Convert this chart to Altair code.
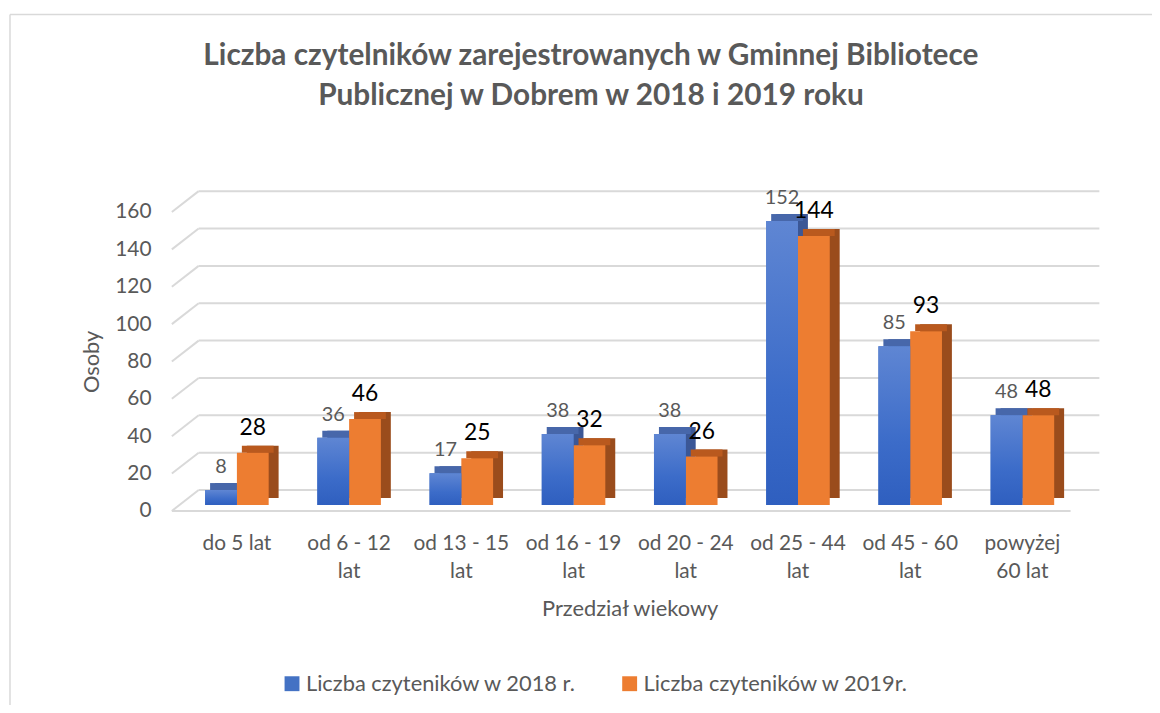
import altair as alt
import pandas as pd

categories = ["do 5 lat", "od 6 - 12\nlat", "od 13 - 15\nlat", "od 16 - 19\nlat",
              "od 20 - 24\nlat", "od 25 - 44\nlat", "od 45 - 60\nlat", "powyżej\n60 lat"]
v2018 = [8, 36, 17, 38, 38, 152, 85, 48]
v2019 = [28, 46, 25, 32, 26, 144, 93, 48]
series = ["Liczba czyteników w 2018 r.", "Liczba czyteników w 2019r."]
y_ticks = [0, 20, 40, 60, 80, 100, 120, 140, 160]

title_lines = ["Liczba czytelników zarejestrowanych w Gminnej Bibliotece",
               "Publicznej w Dobrem w 2018 i 2019 roku"]

rows = []
for c, a, b in zip(categories, v2018, v2019):
    rows.append({"cat": c, "series": series[0], "value": a})
    rows.append({"cat": c, "series": series[1], "value": b})
df = pd.DataFrame(rows)
d18 = df[df.series == series[0]]
d19 = df[df.series == series[1]]
grid = pd.DataFrame({"value": y_ticks})
floor = pd.DataFrame({"value": [0]})

W, H = 904, 301
FONT = "Lato"
GRAY = "#595959"
GRID = "#D9D9D9"
BW = 32      # bar width
DX, DY = 10, 7   # depth
LIFT = 6     # bars stand slightly above the front edge of the floor

xenc = alt.X("cat:N", sort=categories,
             scale=alt.Scale(paddingInner=0.2, paddingOuter=0.1),
             axis=alt.Axis(title="Przedział wiekowy", labelExpr="split(datum.label, '\\n')",
                           labelAngle=0, labelPadding=22, labelLineHeight=28,
                           labelFont=FONT, labelFontSize=21, labelColor=GRAY,
                           titleFont=FONT, titleFontSize=22, titleColor=GRAY,
                           titleFontWeight="normal", titleY=98, titleBaseline="middle",
                           domain=False, ticks=False, grid=False))
yscale = alt.Scale(domain=[0, 160], nice=False)
yaxis = alt.Axis(title="Osoby", values=y_ticks, labelPadding=30,
                 labelFont=FONT, labelFontSize=21, labelColor=GRAY,
                 titleFont=FONT, titleFontSize=22, titleColor=GRAY,
                 titleFontWeight="normal", titleX=-90, titleY=H / 2,
                 titleAngle=-90, titleAlign="center", titleBaseline="middle",
                 domain=False, ticks=False, grid=False)
yenc = alt.Y("value:Q", scale=yscale, axis=yaxis)

# chart frame (left and top border of the chart area)
frame_left = alt.Chart(floor).mark_rule(color=GRID, strokeWidth=1.5).encode(
    x=alt.value(-172), y=alt.value(-199), y2=alt.value(H + 210))
frame_top = alt.Chart(floor).mark_rule(color=GRID, strokeWidth=1.5).encode(
    x=alt.value(-172), x2=alt.value(W + 80), y=alt.value(-199))

# back wall gridlines + left diagonal edges
grid_back = alt.Chart(grid).mark_rule(color=GRID, strokeWidth=2, yOffset=-21).encode(
    y=yenc, x=alt.value(18), x2=alt.value(W + 21))
grid_diag = alt.Chart(grid).mark_rule(color=GRID, strokeWidth=2, y2Offset=-21).encode(
    y=yenc, y2="value:Q", x=alt.value(-9), x2=alt.value(18))
floor_front = alt.Chart(floor).mark_rule(color=GRID, strokeWidth=2).encode(
    y=yenc, x=alt.value(-9), x2=alt.value(W - 8))

def side(data, xo, col):
    return alt.Chart(data).mark_bar(width=BW, xOffset=xo + DX, yOffset=-LIFT - DY,
                                    y2Offset=-LIFT - DY, color=col).encode(x=xenc, y=yenc)

def top(data, xo, col):
    return alt.Chart(data).mark_bar(width=BW, xOffset=xo + DX / 2, yOffset=-LIFT - DY,
                                    y2Offset=-LIFT, color=col).encode(
        x=xenc, y=yenc, y2="value:Q")

color = alt.Color("series:N", scale=alt.Scale(domain=series, range=["#4472C4", "#ED7D31"]),
                  legend=alt.Legend(title=None, orient="none", legendX=101, legendY=464,
                                    direction="horizontal", symbolType="square",
                                    symbolSize=225, symbolStrokeWidth=0, labelOffset=3,
                                    labelFont=FONT, labelFontSize=22, labelColor=GRAY,
                                    columnPadding=42, labelLimit=400))

front18 = alt.Chart(d18).mark_bar(width=BW, xOffset=-BW / 2, yOffset=-LIFT, y2Offset=-LIFT).encode(
    x=xenc, y=yenc, color=color)
front19 = alt.Chart(d19).mark_bar(width=BW, xOffset=BW / 2, yOffset=-LIFT, y2Offset=-LIFT).encode(
    x=xenc, y=yenc, color=color)
grad18 = alt.Chart(d18).mark_bar(
    width=BW, xOffset=-BW / 2, yOffset=-LIFT, y2Offset=-LIFT,
    color=alt.Gradient(gradient="linear", x1=0, y1=0, x2=0, y2=1,
                       stops=[alt.GradientStop(color="#5F86D3", offset=0),
                              alt.GradientStop(color="#3C6CC9", offset=0.6),
                              alt.GradientStop(color="#2F5FBF", offset=1)])).encode(x=xenc, y=yenc)

lab18 = alt.Chart(d18).mark_text(xOffset=-BW / 2, yOffset=-LIFT - 17, baseline="alphabetic",
                                 font=FONT, fontSize=20, color=GRAY).encode(
    x=xenc, y=yenc, text="value:Q")
lab19 = alt.Chart(d19).mark_text(xOffset=BW / 2, yOffset=-LIFT - 18, baseline="alphabetic",
                                 font=FONT, fontSize=23, color="#000000").encode(
    x=xenc, y=yenc, text="value:Q")

chart = alt.layer(
    frame_left, frame_top,
    grid_back, grid_diag, floor_front,
    side(d18, -BW / 2, "#3B5796"), side(d19, BW / 2, "#9A4C1C"),
    top(d18, -BW / 2, "#4767AA"), top(d19, BW / 2, "#B9591E"),
    front18, front19, grad18, lab18, lab19,
).resolve_scale(y="shared").properties(
    width=W, height=H, background="white",
    title=alt.TitleParams(text=title_lines, font=FONT, fontSize=30, fontWeight="bold",
                          color=GRAY, lineHeight=40, anchor="middle", frame="group",
                          dx=-39, offset=-97.5),
    autosize=alt.AutoSizeParams(type="none"),
    padding={"left": 174, "top": 203, "right": 74, "bottom": 193},
).configure_view(strokeWidth=0, stroke="transparent")

chart.save("out.html", embed_options={"renderer": "svg", "actions": False})
